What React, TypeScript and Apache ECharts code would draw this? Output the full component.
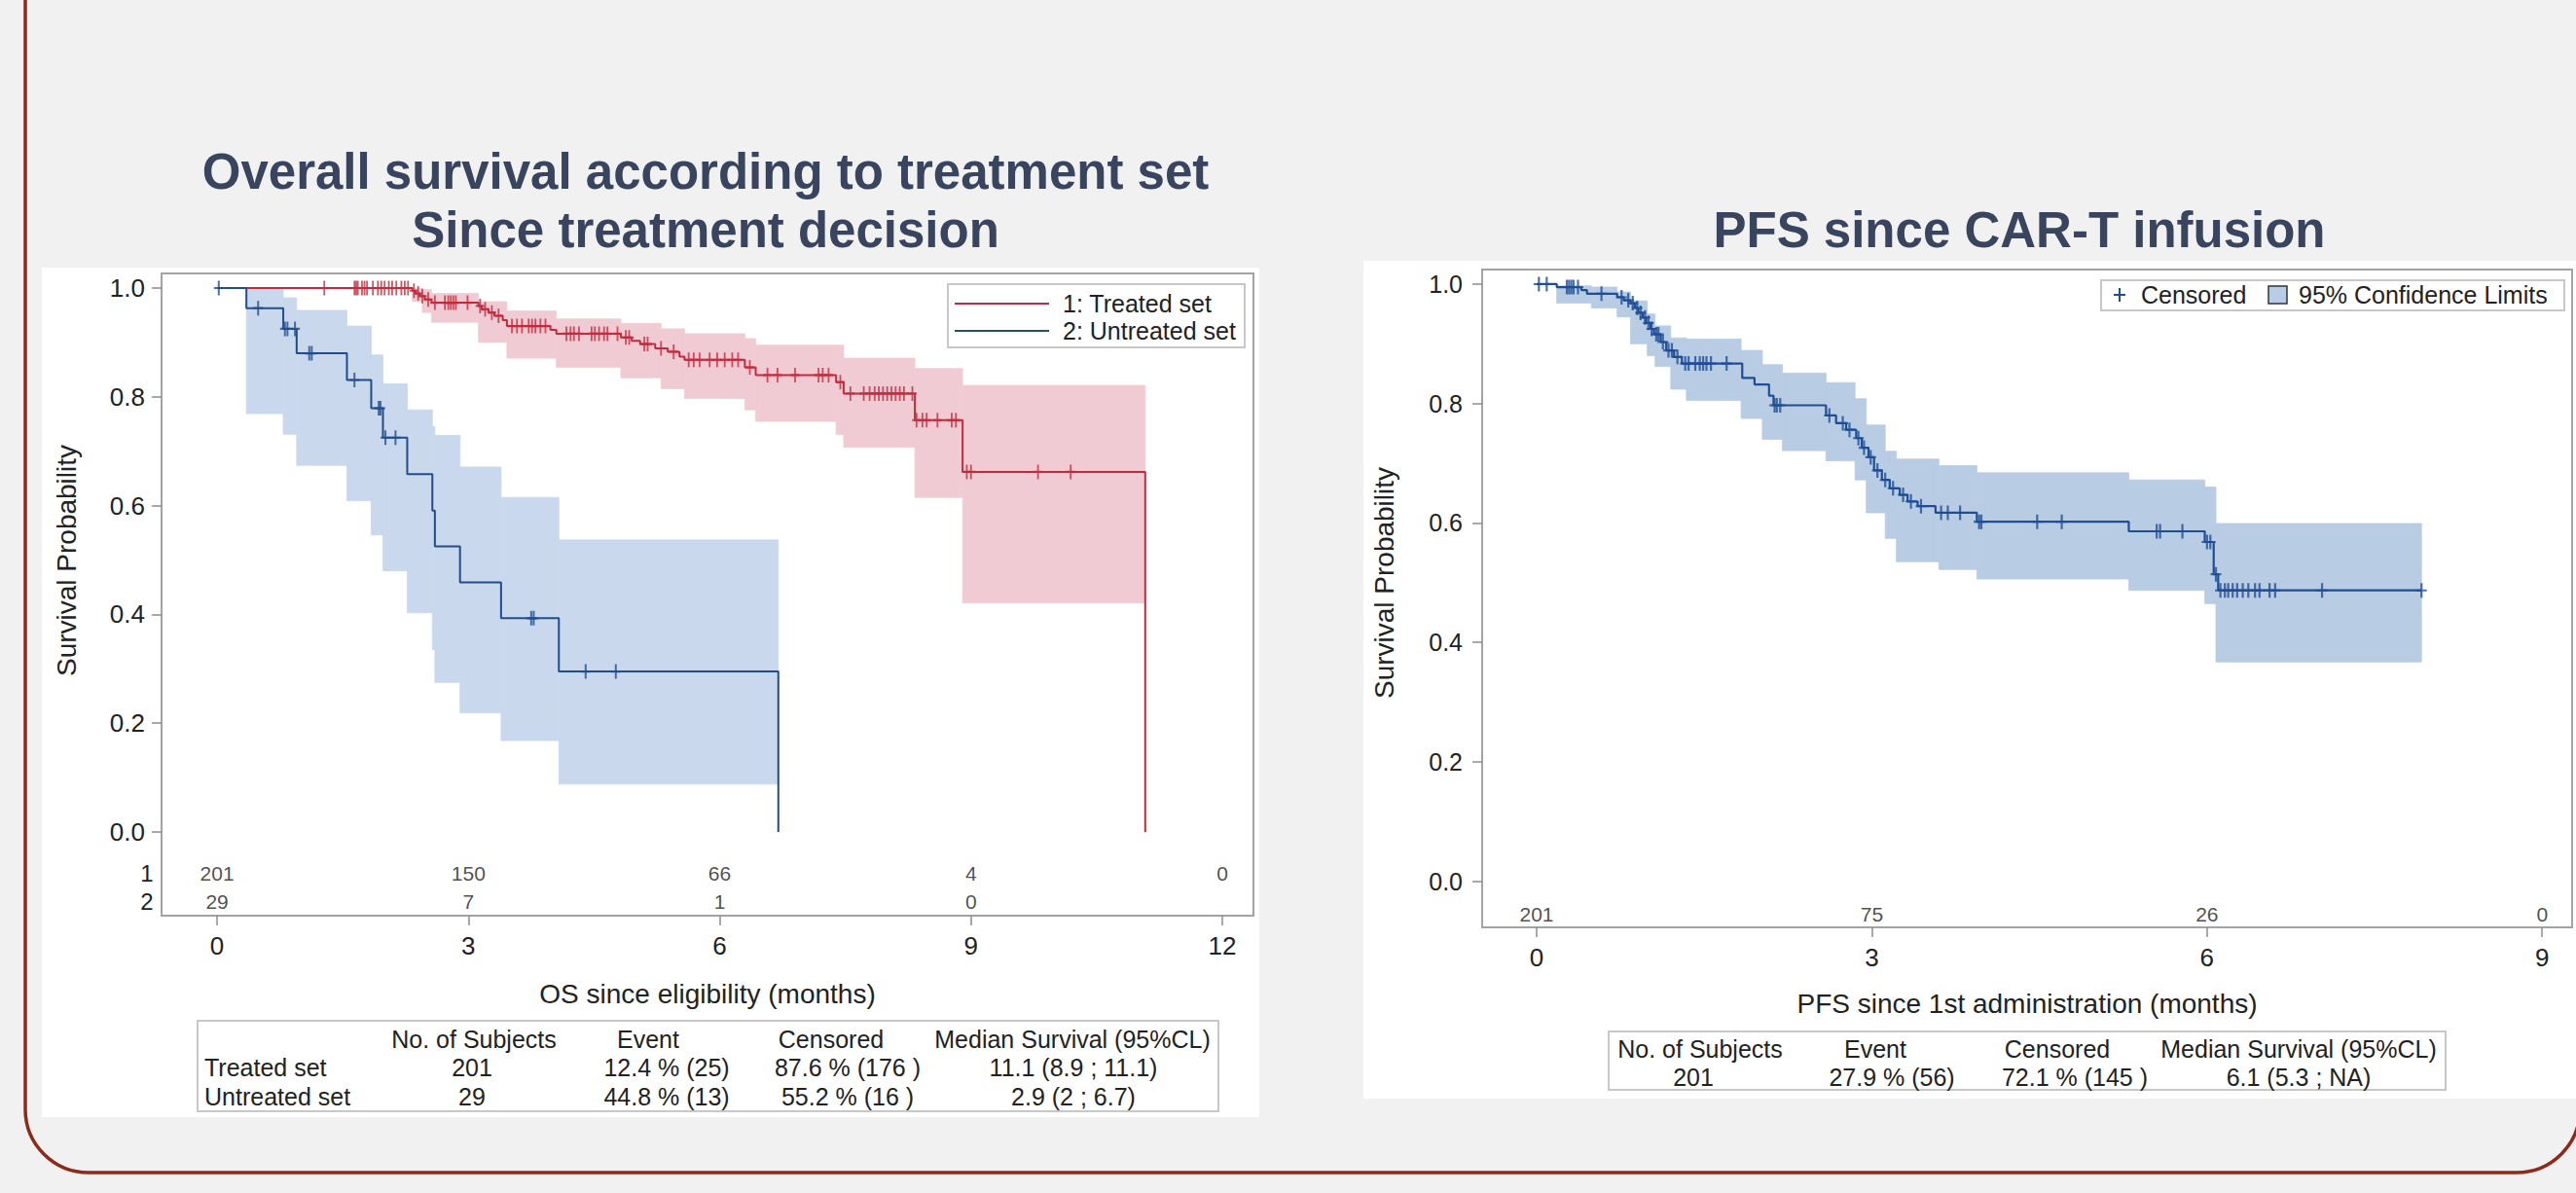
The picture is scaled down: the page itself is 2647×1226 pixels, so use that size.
import React, { useEffect, useRef } from "react";
import * as echarts from "echarts";

// ---------------- DATA ----------------
// Left chart: Overall survival by treatment set
const leftTicksX = [0, 3, 6, 9, 12];
const ticksY = [0, 0.2, 0.4, 0.6, 0.8, 1.0];

const treatedTimes = [0, 2.33, 2.37, 2.42, 2.48, 2.56, 3.12, 3.16, 3.24, 3.31, 3.41, 3.46, 3.98, 4.05, 4.82, 4.95, 5.05, 5.23, 5.38, 5.52, 5.58, 6.30, 6.43, 7.39, 7.48, 8.33, 8.90, 11.08];
const treatedSurv = [1, 0.995, 0.990, 0.985, 0.979, 0.973, 0.967, 0.961, 0.955, 0.949, 0.941, 0.930, 0.923, 0.916, 0.909, 0.903, 0.897, 0.889, 0.883, 0.874, 0.868, 0.854, 0.840, 0.827, 0.806, 0.757, 0.662, 0];
const treatedCensor = [1.28, 1.64, 1.66, 1.68, 1.73, 1.76, 1.79, 1.86, 1.92, 1.96, 2.00, 2.05, 2.09, 2.14, 2.20, 2.24, 2.28, 2.35, 2.40, 2.45, 2.52, 2.60, 2.72, 2.76, 2.79, 2.82, 2.85, 2.99, 3.14, 3.20, 3.28, 3.36, 3.52, 3.58, 3.64, 3.72, 3.76, 3.80, 3.86, 3.92, 4.17, 4.22, 4.26, 4.32, 4.47, 4.51, 4.56, 4.62, 4.66, 4.78, 4.88, 4.92, 5.10, 5.14, 5.30, 5.45, 5.63, 5.69, 5.76, 5.88, 5.97, 6.06, 6.15, 6.22, 6.36, 6.57, 6.69, 6.90, 7.18, 7.23, 7.30, 7.44, 7.56, 7.72, 7.79, 7.85, 7.90, 7.95, 8.00, 8.05, 8.10, 8.15, 8.20, 8.30, 8.35, 8.42, 8.47, 8.60, 8.77, 8.82, 8.95, 9.00, 9.80, 10.19];
// band: [start, end, lower, upper]
const treatedBand = [
  [2.33, 2.45, 0.975, 0.999], [2.45, 2.56, 0.955, 0.997], [2.56, 3.12, 0.937, 0.990], [3.12, 3.46, 0.900, 0.975],
  [3.46, 4.05, 0.871, 0.958], [4.05, 4.82, 0.854, 0.943], [4.82, 5.30, 0.835, 0.935], [5.30, 5.58, 0.815, 0.925],
  [5.58, 6.30, 0.797, 0.916], [6.30, 6.43, 0.776, 0.907], [6.43, 7.39, 0.755, 0.895], [7.39, 7.48, 0.731, 0.895],
  [7.48, 8.33, 0.707, 0.871], [8.33, 8.90, 0.615, 0.852], [8.90, 11.08, 0.421, 0.821],
];

const untreatedTimes = [0, 0.35, 0.79, 0.95, 1.55, 1.84, 1.98, 2.27, 2.57, 2.60, 2.90, 3.39, 4.08, 6.70];
const untreatedSurv = [1, 0.963, 0.925, 0.880, 0.831, 0.779, 0.725, 0.658, 0.591, 0.525, 0.459, 0.393, 0.295, 0];
const untreatedCensor = [0.02, 0.49, 0.81, 0.84, 0.93, 1.10, 1.13, 1.64, 1.93, 1.95, 2.01, 2.13, 3.75, 3.78, 4.40, 4.76];
const untreatedBand = [
  [0.35, 0.79, 0.769, 0.997], [0.79, 0.95, 0.731, 0.982], [0.95, 1.55, 0.674, 0.959], [1.55, 1.84, 0.609, 0.930],
  [1.84, 1.98, 0.546, 0.877], [1.98, 2.27, 0.480, 0.824], [2.27, 2.57, 0.403, 0.776], [2.57, 2.60, 0.335, 0.745],
  [2.60, 2.90, 0.275, 0.729], [2.90, 3.39, 0.219, 0.671], [3.39, 4.08, 0.168, 0.615], [4.08, 6.70, 0.088, 0.537],
];

const leftAtRisk1 = [201, 150, 66, 4, 0];
const leftAtRisk2 = [29, 7, 1, 0];
const leftRowLabels = ["1", "2"];
const leftLegend = ["1: Treated set", "2: Untreated set"];
const leftTableHeader = ["No. of Subjects", "Event", "Censored", "Median Survival (95%CL)"];
const leftTableRows = [
  ["Treated set", "201", "12.4 % (25)", "87.6 % (176 )", "11.1 (8.9 ; 11.1)"],
  ["Untreated set", "29", "44.8 % (13)", "55.2 % (16 )", "2.9 (2 ; 6.7)"],
];

// Right chart: PFS since CAR-T infusion
const rightTicksX = [0, 3, 6, 9];
const pfsTimes = [0, 0.18, 0.40, 0.45, 0.72, 0.78, 0.84, 0.88, 0.91, 0.95, 0.98, 1.02, 1.05, 1.11, 1.16, 1.23, 1.30, 1.84, 1.95, 2.08, 2.12, 2.59, 2.68, 2.77, 2.86, 2.91, 2.97, 3.02, 3.09, 3.16, 3.25, 3.32, 3.41, 3.57, 3.94, 5.30, 5.98, 6.06, 6.10, 7.92];
const pfsSurv = [1, 0.995, 0.990, 0.984, 0.978, 0.973, 0.968, 0.960, 0.952, 0.944, 0.935, 0.925, 0.916, 0.903, 0.889, 0.878, 0.867, 0.843, 0.832, 0.813, 0.797, 0.780, 0.767, 0.756, 0.742, 0.726, 0.710, 0.688, 0.672, 0.658, 0.647, 0.636, 0.628, 0.617, 0.602, 0.586, 0.568, 0.514, 0.487, 0.487];
const pfsCensor = [0.02, 0.09, 0.27, 0.29, 0.31, 0.33, 0.37, 0.58, 0.76, 0.82, 0.86, 0.90, 0.93, 0.97, 1.00, 1.03, 1.07, 1.09, 1.13, 1.18, 1.21, 1.26, 1.33, 1.36, 1.42, 1.46, 1.49, 1.52, 1.56, 1.70, 2.13, 2.15, 2.18, 2.62, 2.74, 2.80, 2.88, 2.93, 2.99, 3.05, 3.12, 3.19, 3.28, 3.35, 3.44, 3.62, 3.68, 3.79, 3.96, 3.98, 4.48, 4.70, 5.55, 5.58, 5.78, 6.00, 6.03, 6.08, 6.12, 6.16, 6.19, 6.23, 6.27, 6.32, 6.37, 6.43, 6.47, 6.56, 6.61, 7.03, 7.92];
const pfsBand = [
  [0.18, 0.49, 0.968, 0.997], [0.49, 0.72, 0.960, 0.995], [0.72, 0.84, 0.945, 0.987], [0.84, 0.99, 0.900, 0.972],
  [0.99, 1.06, 0.880, 0.950], [1.06, 1.20, 0.862, 0.930], [1.20, 1.34, 0.824, 0.910], [1.34, 1.83, 0.805, 0.908],
  [1.83, 2.02, 0.775, 0.889], [2.02, 2.20, 0.740, 0.865], [2.20, 2.59, 0.721, 0.851], [2.59, 2.85, 0.704, 0.835],
  [2.85, 2.95, 0.672, 0.808], [2.95, 3.12, 0.617, 0.764], [3.12, 3.22, 0.574, 0.720], [3.22, 3.60, 0.535, 0.707],
  [3.60, 3.94, 0.522, 0.696], [3.94, 5.30, 0.506, 0.684], [5.30, 5.98, 0.487, 0.672], [5.98, 6.08, 0.465, 0.660],
  [6.08, 7.92, 0.367, 0.599],
];
const rightAtRisk = [201, 75, 26, 0];
const rightLegend = ["Censored", "95% Confidence Limits"];
const rightTableHeader = ["No. of Subjects", "Event", "Censored", "Median Survival (95%CL)"];
const rightTableRow = ["201", "27.9 % (56)", "72.1 % (145 )", "6.1 (5.3 ; NA)"];

const leftTitle = ["Overall survival according to treatment set", "Since treatment decision"];
const rightTitle = "PFS since CAR-T infusion";
const leftXName = "OS since eligibility (months)";
const rightXName = "PFS since 1st administration (months)";
const yName = "Survival Probability";

// ---------------- STYLE ----------------
const FONT = "'Liberation Sans', Arial, Helvetica, sans-serif";
const TXT = "#222222";
const RED = "#c42a3c";
const PINK = "#f1cbd4";
const BLUE_L = "#224d8c";
const BAND_L = "#c9d8ec";
const BLUE_R = "#1f4e96";
const BAND_R = "#b8cce4";
const CENSOR = "path://M4,0L6,0L6,14L4,14Z M0,6L10,6L10,8L0,8Z";

function survAt(times: number[], surv: number[], t: number) {
  let s = surv[0];
  for (let i = 0; i < times.length; i++) {
    if (times[i] <= t) s = surv[i];
    else break;
  }
  return s;
}

function bandSeries(data: number[][], xi: number, color: string) {
  return {
    type: "custom",
    xAxisIndex: xi,
    yAxisIndex: xi,
    silent: true,
    z: 1,
    data,
    encode: { x: [0, 1], y: [2, 3] },
    renderItem: (_p: any, api: any) => {
      const a = api.coord([api.value(0), api.value(3)]);
      const b = api.coord([api.value(1), api.value(2)]);
      return {
        type: "rect",
        shape: { x: a[0], y: a[1], width: b[0] - a[0], height: b[1] - a[1] },
        style: { fill: color, stroke: color, lineWidth: 0.8 },
      };
    },
  };
}

function stepSeries(name: string, times: number[], surv: number[], xi: number, color: string, w: number) {
  return {
    name,
    type: "line",
    xAxisIndex: xi,
    yAxisIndex: xi,
    step: "end",
    showSymbol: false,
    silent: true,
    z: 3,
    lineStyle: { color, width: w },
    data: times.map((t, i) => [t, surv[i]]),
  };
}

function censorSeries(times: number[], surv: number[], cens: number[], xi: number, color: string, size: number[]) {
  return {
    type: "scatter",
    xAxisIndex: xi,
    yAxisIndex: xi,
    symbol: CENSOR,
    symbolSize: size,
    silent: true,
    z: 4,
    itemStyle: { color },
    data: cens.map((t) => [t, survAt(times, surv, t)]),
  };
}

function atRiskSeries(ticks: number[], counts: number[], yv: number, xi: number) {
  return {
    type: "scatter",
    xAxisIndex: xi,
    yAxisIndex: xi,
    symbolSize: 1,
    silent: true,
    z: 5,
    itemStyle: { color: "rgba(0,0,0,0)" },
    label: {
      show: true,
      position: "inside",
      formatter: (p: any) => String(p.value[2]),
      fontSize: 21,
      color: TXT,
      fontFamily: FONT,
    },
    data: counts.map((n, i) => [ticks[i], yv, n]),
  };
}

function xAxisCfg(gi: number, min: number, max: number, ticks: number[], name: string, gap: number) {
  return {
    gridIndex: gi,
    type: "value",
    position: "bottom",
    min,
    max,
    axisLine: { show: false, onZero: false },
    splitLine: { show: false },
    axisTick: { show: true, customValues: ticks, length: 10, lineStyle: { color: "#8c8c8c", width: 1.5 } },
    axisLabel: { customValues: ticks, fontSize: 26, color: TXT, fontFamily: FONT, margin: 18 },
    name,
    nameLocation: "middle",
    nameGap: gap,
    nameTextStyle: { fontSize: 28, color: TXT, fontFamily: FONT },
  };
}

function yAxisCfg(gi: number, min: number, max: number, margin: number, fs: number) {
  return {
    gridIndex: gi,
    type: "value",
    position: "left",
    min,
    max,
    axisLine: { show: false, onZero: false },
    splitLine: { show: false },
    axisTick: { show: true, customValues: ticksY, length: 10, lineStyle: { color: "#8c8c8c", width: 1.5 } },
    axisLabel: {
      customValues: ticksY,
      formatter: (v: number) => v.toFixed(1),
      fontSize: fs,
      color: TXT,
      fontFamily: FONT,
      margin,
    },
  };
}

function txt(text: string, x: number, y: number, size: number, align = "center", extra: any = {}) {
  return {
    type: "text",
    x,
    y,
    z: 20,
    silent: true,
    style: { text, fontSize: size, fontFamily: FONT, fill: TXT, align, verticalAlign: "middle", ...extra },
  };
}

export default function App() {
  const ref = useRef<HTMLDivElement>(null);

  useEffect(() => {
    if (!ref.current) return;
    const chart = echarts.init(ref.current, undefined, { renderer: "svg" });

    const leftCols = [487, 666, 854, 1102];
    const leftValCols = [485, 685, 871, 1103];
    const leftRowsY = [1097, 1127];
    const rightCols = [1747, 1927, 2114, 2362];
    const rightValCols = [1740, 1944, 2132, 2362];

    const graphic: any[] = [
      // slide frame
      {
        type: "rect",
        z: 30,
        silent: true,
        shape: { x: 26, y: -120, width: 2625, height: 1325, r: 65 },
        style: { fill: "none", stroke: "#8c2b1b", lineWidth: 3.5 },
      },
      // white panels
      { type: "rect", z: -10, silent: true, shape: { x: 43, y: 275, width: 1251, height: 873 }, style: { fill: "#ffffff" } },
      { type: "rect", z: -10, silent: true, shape: { x: 1401, y: 268, width: 1246, height: 861 }, style: { fill: "#ffffff" } },
      // titles
      txt(leftTitle[0], 725, 176, 51, "center", { fontWeight: "bold", fill: "#39455f" }),
      txt(leftTitle[1], 725, 236, 51, "center", { fontWeight: "bold", fill: "#39455f" }),
      txt(rightTitle, 2075, 236, 51, "center", { fontWeight: "bold", fill: "#39455f" }),
      // y titles
      { ...txt(yName, 68, 576, 28), rotation: Math.PI / 2 },
      { ...txt(yName, 1422, 599, 28), rotation: Math.PI / 2 },
      // at-risk row labels
      txt(leftRowLabels[0], 151, 897, 24),
      txt(leftRowLabels[1], 151, 926, 24),
      // left legend
      { type: "rect", z: 15, silent: true, shape: { x: 974, y: 292, width: 305, height: 65 }, style: { fill: "#fff", stroke: "#c8c8c8", lineWidth: 2 } },
      { type: "line", z: 20, silent: true, shape: { x1: 981, y1: 312, x2: 1078, y2: 312 }, style: { stroke: RED, lineWidth: 2 } },
      { type: "line", z: 20, silent: true, shape: { x1: 981, y1: 340, x2: 1078, y2: 340 }, style: { stroke: BLUE_L, lineWidth: 2 } },
      txt(leftLegend[0], 1092, 312, 25, "left"),
      txt(leftLegend[1], 1092, 340, 25, "left"),
      // right legend
      { type: "rect", z: 15, silent: true, shape: { x: 2159, y: 288, width: 476, height: 31 }, style: { fill: "#fff", stroke: "#c8c8c8", lineWidth: 2 } },
      { type: "line", z: 20, silent: true, shape: { x1: 2178, y1: 296, x2: 2178, y2: 310 }, style: { stroke: BLUE_R, lineWidth: 2 } },
      { type: "line", z: 20, silent: true, shape: { x1: 2172, y1: 303, x2: 2184, y2: 303 }, style: { stroke: BLUE_R, lineWidth: 2 } },
      txt(rightLegend[0], 2200, 303, 25, "left"),
      { type: "rect", z: 20, silent: true, shape: { x: 2331, y: 294, width: 19, height: 18 }, style: { fill: BAND_R, stroke: "#333", lineWidth: 1.5 } },
      txt(rightLegend[1], 2362, 303, 25, "left"),
      // left table
      { type: "rect", z: 15, silent: true, shape: { x: 203, y: 1049, width: 1049, height: 93 }, style: { fill: "#fff", stroke: "#c8c8c8", lineWidth: 2 } },
      ...leftTableHeader.map((h, i) => txt(h, leftCols[i], 1068, 25)),
      ...leftTableRows.flatMap((row, r) =>
        row.map((cell, c) => (c === 0 ? txt(cell, 210, leftRowsY[r], 25, "left") : txt(cell, leftValCols[c - 1], leftRowsY[r], 25)))
      ),
      // right table
      { type: "rect", z: 15, silent: true, shape: { x: 1653, y: 1060, width: 860, height: 60 }, style: { fill: "#fff", stroke: "#c8c8c8", lineWidth: 2 } },
      ...rightTableHeader.map((h, i) => txt(h, rightCols[i], 1078, 25)),
      ...rightTableRow.map((cell, i) => txt(cell, rightValCols[i], 1107, 25)),
    ];

    chart.setOption({
      animation: false,
      backgroundColor: "#f1f1f1",
      grid: [
        { left: 166, top: 281, width: 1122, height: 660, show: true, borderColor: "#a3a3a3", borderWidth: 2, backgroundColor: "rgba(0,0,0,0)" },
        { left: 1523, top: 277, width: 1120, height: 676, show: true, borderColor: "#a3a3a3", borderWidth: 2, backgroundColor: "rgba(0,0,0,0)" },
      ],
      xAxis: [
        xAxisCfg(0, -0.663, 12.372, leftTicksX, leftXName, 66),
        xAxisCfg(1, -0.488, 9.268, rightTicksX, rightXName, 64),
      ],
      yAxis: [yAxisCfg(0, -0.1538, 1.0268, 17, 26), yAxisCfg(1, -0.0774, 1.0244, 20, 25)],
      graphic,
      series: [
        bandSeries(untreatedBand, 0, BAND_L),
        bandSeries(treatedBand, 0, PINK),
        stepSeries("1: Treated set", treatedTimes, treatedSurv, 0, RED, 2),
        stepSeries("2: Untreated set", untreatedTimes, untreatedSurv, 0, BLUE_L, 2),
        censorSeries(treatedTimes, treatedSurv, treatedCensor, 0, RED, [9, 15]),
        censorSeries(untreatedTimes, untreatedSurv, untreatedCensor, 0, BLUE_L, [10, 15]),
        atRiskSeries(leftTicksX, leftAtRisk1, -0.0751, 0),
        atRiskSeries(leftTicksX, leftAtRisk2, -0.127, 0),
        bandSeries(pfsBand, 1, BAND_R),
        stepSeries("PFS", pfsTimes, pfsSurv, 1, BLUE_R, 2.2),
        censorSeries(pfsTimes, pfsSurv, pfsCensor, 1, BLUE_R, [11, 15]),
        atRiskSeries(rightTicksX, rightAtRisk, -0.0562, 1),
      ],
    });

    return () => chart.dispose();
  }, []);

  return (
    <div
      ref={ref}
      style={{ position: "fixed", left: 0, top: 0, width: 2647, height: 1226, background: "#f1f1f1" }}
    />
  );
}
